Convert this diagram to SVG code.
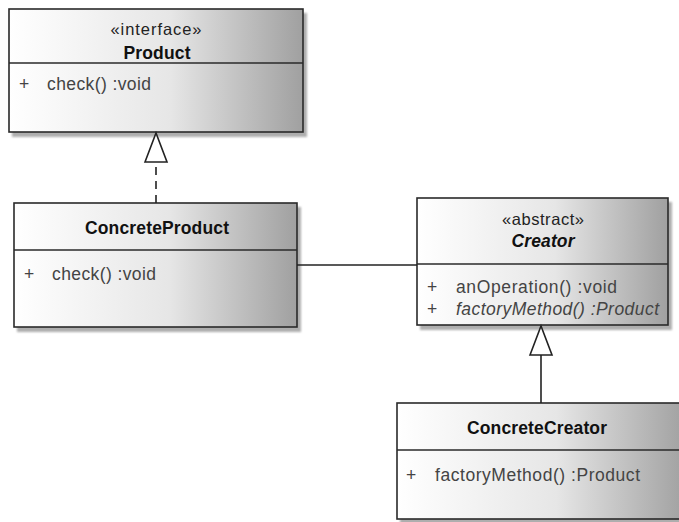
<svg xmlns="http://www.w3.org/2000/svg" width="679" height="522" viewBox="0 0 679 522">
<style>
.box{fill:url(#grad);stroke:#2a2a2a;stroke-width:1.6}
.shadow{fill:#8c8c8c;opacity:0.7;filter:url(#blur)}
.div{stroke:#2a2a2a;stroke-width:1.6}
.t{font-family:"Liberation Sans",Arial,sans-serif;fill:#111}
.st{font-size:16.5px;text-anchor:middle;fill:#222}
.title{font-size:17.5px;font-weight:bold;text-anchor:middle}
.op{font-size:17.5px;fill:#444}
.conn{stroke:#222;stroke-width:1.6;fill:none}
</style>
<defs>
<linearGradient id="grad" x1="0" y1="0" x2="1" y2="0">
<stop offset="0" stop-color="#ffffff"/>
<stop offset="0.55" stop-color="#e6e6e6"/>
<stop offset="1" stop-color="#a0a0a0"/>
</linearGradient>
<filter id="blur" x="-5%" y="-5%" width="110%" height="110%"><feGaussianBlur stdDeviation="1"/></filter>
<marker id="gen" markerUnits="userSpaceOnUse" viewBox="-2 -13 34 26" refX="29" refY="0" markerWidth="34" markerHeight="26" orient="auto" overflow="visible">
<path d="M0,-11 L29,0 L0,11 Z" fill="#fff" stroke="#222" stroke-width="1.6" stroke-linejoin="miter"/>
</marker>
</defs>
<rect width="679" height="522" fill="#fff"/>

<g id="Product">
<rect class="shadow" x="12" y="13" width="295" height="124"/>
<rect class="box" x="9" y="9" width="294" height="123"/>
<line class="div" x1="9" y1="63" x2="303" y2="63"/>
<text class="t st" x="156" y="35" textLength="91">«interface»</text>
<text class="t title" x="157" y="59" textLength="67">Product</text>
<text class="t op" x="19" y="90">+</text>
<text class="t op" x="47" y="90" textLength="104">check()  :void</text>
</g>

<g id="ConcreteProduct">
<rect class="shadow" x="17" y="207" width="284" height="125"/>
<rect class="box" x="14" y="203" width="283" height="124"/>
<line class="div" x1="14" y1="250" x2="297" y2="250"/>
<text class="t title" x="157" y="234" textLength="144">ConcreteProduct</text>
<text class="t op" x="24" y="280">+</text>
<text class="t op" x="52" y="280" textLength="104">check()  :void</text>
</g>

<g id="Creator">
<rect class="shadow" x="420" y="202" width="252" height="128"/>
<rect class="box" x="417" y="198" width="251" height="127"/>
<line class="div" x1="417" y1="264" x2="668" y2="264"/>
<text class="t st" x="543" y="225" textLength="82">«abstract»</text>
<text class="t title" x="543" y="247" font-style="italic" textLength="63">Creator</text>
<text class="t op" x="427" y="293">+</text>
<text class="t op" x="456" y="293" textLength="161">anOperation()  :void</text>
<text class="t op" x="427" y="315">+</text>
<text class="t op" x="456" y="315" font-style="italic" textLength="203">factoryMethod()  :Product</text>
</g>

<g id="ConcreteCreator">
<rect class="shadow" x="400" y="407" width="290" height="117"/>
<rect class="box" x="397" y="403" width="290" height="116"/>
<line class="div" x1="397" y1="450" x2="687" y2="450"/>
<text class="t title" x="537" y="434" textLength="140">ConcreteCreator</text>
<text class="t op" x="406" y="481">+</text>
<text class="t op" x="435" y="481" textLength="205">factoryMethod()  :Product</text>
</g>

<g id="connectors">
<line class="conn" x1="156" y1="203" x2="156" y2="133" stroke-dasharray="8 6" marker-end="url(#gen)"/>
<line class="conn" x1="297" y1="265" x2="417" y2="265"/>
<line class="conn" x1="541" y1="403" x2="541" y2="326" marker-end="url(#gen)"/>
</g>
</svg>
